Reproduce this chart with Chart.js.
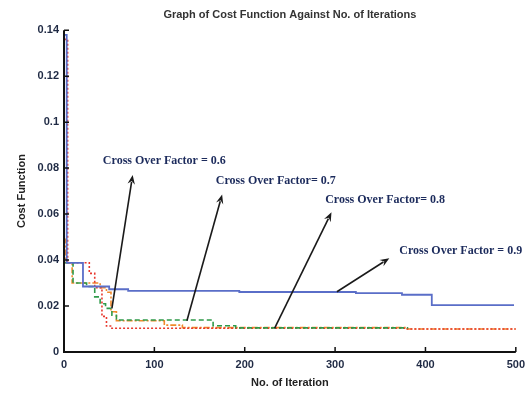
<!DOCTYPE html>
<html>
<head>
<meta charset="utf-8">
<script src="https://cdn.jsdelivr.net/npm/chart.js@4.4.1/dist/chart.umd.min.js"></script>
<style>
  html, body { margin: 0; padding: 0; background: #fff; }
  #wrap { width: 531px; height: 394px; }
</style>
</head>
<body>
<div id="wrap"><canvas id="grafico" width="531" height="394"></canvas></div>
<script>
// valores (iteracao, custo)
const iterAzul = [0, 3, 21, 50, 71, 194, 323, 374, 407, 498];
const custoAzul = [0.138, 0.0388, 0.0285, 0.0273, 0.0266, 0.0261, 0.0256, 0.0249, 0.0204, 0.0204];

const iterVermelho = [0, 4, 28, 34, 42, 47, 53, 380, 500];
const custoVermelho = [0.136, 0.0388, 0.0342, 0.0280, 0.0155, 0.0113, 0.0103, 0.0100, 0.0100];

const iterLaranja = [0, 2, 9, 40, 47, 52, 58, 111, 131, 380, 500];
const custoLaranja = [0.049, 0.0388, 0.0300, 0.0280, 0.0260, 0.0175, 0.0136, 0.0117, 0.0106, 0.0100, 0.0100];

const iterVerde = [0, 10, 25, 34, 40, 46, 53, 58, 165, 190, 380];
const custoVerde = [0.0388, 0.0300, 0.0285, 0.0240, 0.0210, 0.0190, 0.0160, 0.0139, 0.0114, 0.0105, 0.0102];

const ticksX = [0, 100, 200, 300, 400, 500];
const ticksY = [0, 0.02, 0.04, 0.06, 0.08, 0.1, 0.12, 0.14];

// anotacoes: texto, ponta da seta e cauda (em unidades dos dados)
const rotulos = ["Cross Over Factor = 0.6", "Cross Over Factor= 0.7", "Cross Over Factor= 0.8", "Cross Over Factor = 0.9"];
const rotuloX = [43, 168, 289, 371];
const rotuloY = [0.0832, 0.0743, 0.0660, 0.0438];
const setaPontaX = [76, 175, 296, 360];
const setaPontaY = [0.0770, 0.0685, 0.0608, 0.0408];
const setaCaudaX = [53, 136, 233, 302];
const setaCaudaY = [0.0190, 0.0136, 0.0103, 0.0262];

function pares(xs, ys) {
  return xs.map((x, i) => ({ x: x, y: ys[i] }));
}

const anotacoes = {
  id: "anotacoes",
  afterDatasetsDraw(chart) {
    const ctx = chart.ctx;
    const sx = chart.scales.x;
    const sy = chart.scales.y;
    ctx.save();
    ctx.strokeStyle = "#1a1a1a";
    ctx.fillStyle = "#1a1a1a";
    ctx.lineWidth = 1.6;
    for (let i = 0; i < rotulos.length; i++) {
      const x1 = sx.getPixelForValue(setaCaudaX[i]);
      const y1 = sy.getPixelForValue(setaCaudaY[i]);
      const x2 = sx.getPixelForValue(setaPontaX[i]);
      const y2 = sy.getPixelForValue(setaPontaY[i]);
      const ang = Math.atan2(y2 - y1, x2 - x1);
      const tam = 10;
      ctx.beginPath();
      ctx.moveTo(x1, y1);
      ctx.lineTo(x2 - Math.cos(ang) * tam * 0.7, y2 - Math.sin(ang) * tam * 0.7);
      ctx.stroke();
      ctx.beginPath();
      ctx.moveTo(x2, y2);
      ctx.lineTo(x2 - tam * Math.cos(ang - 0.38), y2 - tam * Math.sin(ang - 0.38));
      ctx.lineTo(x2 - tam * 0.6 * Math.cos(ang), y2 - tam * 0.6 * Math.sin(ang));
      ctx.lineTo(x2 - tam * Math.cos(ang + 0.38), y2 - tam * Math.sin(ang + 0.38));
      ctx.closePath();
      ctx.fill();
    }
    ctx.fillStyle = "#1c2b5c";
    ctx.font = "bold 12px 'Liberation Serif', 'Times New Roman', serif";
    ctx.textBaseline = "middle";
    ctx.textAlign = "left";
    for (let i = 0; i < rotulos.length; i++) {
      ctx.fillText(rotulos[i], sx.getPixelForValue(rotuloX[i]), sy.getPixelForValue(rotuloY[i]));
    }

    // eixos e marcas para dentro
    const a = chart.chartArea;
    ctx.strokeStyle = "#111";
    ctx.lineWidth = 2;
    ctx.beginPath();
    ctx.moveTo(a.left, a.top);
    ctx.lineTo(a.left, a.bottom);
    ctx.lineTo(a.right, a.bottom);
    ctx.stroke();
    ctx.lineWidth = 1.5;
    ctx.beginPath();
    ticksY.forEach(v => {
      const y = sy.getPixelForValue(v);
      ctx.moveTo(a.left, y);
      ctx.lineTo(a.left + 5, y);
    });
    ticksX.forEach(v => {
      const x = sx.getPixelForValue(v);
      ctx.moveTo(x, a.bottom);
      ctx.lineTo(x, a.bottom - 5);
    });
    ctx.stroke();
    ctx.restore();
  }
};

const fonteEixo = { family: "Arial, 'Liberation Sans', sans-serif", size: 11, weight: "bold" };

new Chart(document.getElementById("grafico"), {
  type: "line",
  data: {
    datasets: [
      {
        label: "Cross Over Factor = 0.9",
        data: pares(iterAzul, custoAzul),
        borderColor: "#5a6ec8",
        borderWidth: 1.8,
        stepped: true,
      },
      {
        label: "Cross Over Factor = 0.7",
        data: pares(iterVerde, custoVerde),
        borderColor: "#2f9a4a",
        borderWidth: 1.6,
        borderDash: [5, 3],
        stepped: true,
      },
      {
        label: "Cross Over Factor = 0.6",
        data: pares(iterVermelho, custoVermelho),
        borderColor: "#e8382e",
        borderWidth: 1.6,
        borderDash: [2, 2],
        stepped: true,
      },
      {
        label: "Cross Over Factor = 0.8",
        data: pares(iterLaranja, custoLaranja),
        borderColor: "#f08a2c",
        borderWidth: 1.6,
        borderDash: [6, 2, 2, 2],
        stepped: true,
      },
    ],
  },
  options: {
    responsive: false,
    animation: false,
    events: [],
    layout: { padding: { left: 0, right: 15, top: 0, bottom: 0 } },
    elements: { point: { radius: 0 }, line: { tension: 0 } },
    plugins: {
      legend: { display: false },
      tooltip: { enabled: false },
      title: {
        display: true,
        text: "Graph of Cost Function Against No. of Iterations",
        color: "#333",
        fullSize: false,
        font: { family: "Arial, 'Liberation Sans', sans-serif", size: 11, weight: "bold" },
        padding: { top: 8, bottom: 9 },
      },
    },
    scales: {
      x: {
        type: "linear",
        min: 0,
        max: 500,
        afterBuildTicks: s => { s.ticks = ticksX.map(v => ({ value: v })); },
        afterFit: s => { s.height = 42; },
        grid: { display: false, drawTicks: false },
        border: { display: false },
        ticks: { color: "#1f2a44", font: fonteEixo, padding: 6, maxRotation: 0 },
        title: { display: true, text: "No. of Iteration", color: "#222", font: fonteEixo, padding: { top: 4 } },
      },
      y: {
        type: "linear",
        min: 0,
        max: 0.14,
        afterBuildTicks: s => { s.ticks = ticksY.map(v => ({ value: v })); },
        afterFit: s => { s.width = 64; },
        grid: { display: false, drawTicks: false },
        border: { display: false },
        ticks: {
          color: "#1f2a44",
          font: fonteEixo,
          padding: 5,
          callback: v => String(+v.toFixed(2)),
        },
        title: { display: true, text: "Cost Function", color: "#222", font: fonteEixo, padding: { top: 15, bottom: 4 } },
      },
    },
  },
  plugins: [anotacoes],
});
</script>
</body>
</html>
